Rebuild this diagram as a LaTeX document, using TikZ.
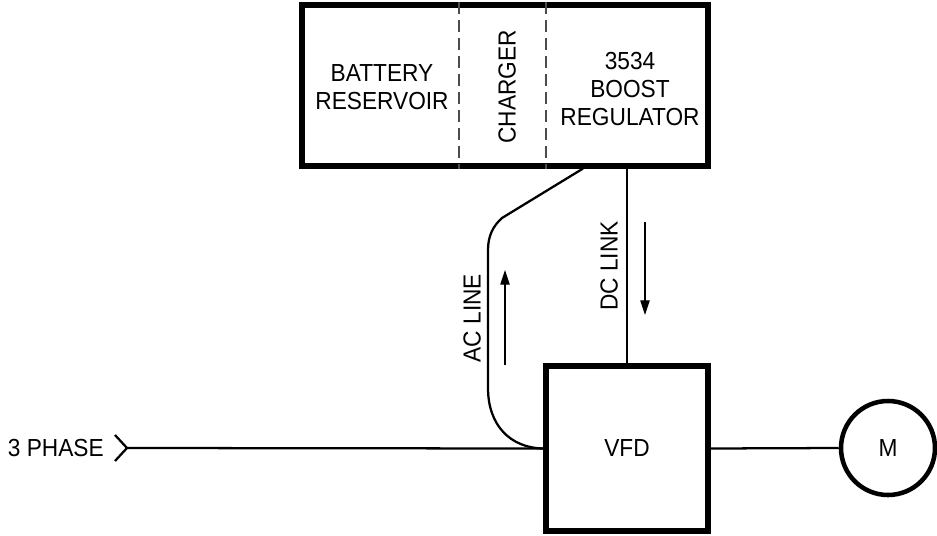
\documentclass[tikz,border=0pt]{standalone}
\usepackage{fontspec}
\setmainfont{Liberation Sans}[FakeStretch=0.92]
\usepackage{tikz}
\usetikzlibrary{arrows.meta,positioning,calc}

\begin{document}
\begin{tikzpicture}[x=0.75pt,y=-0.75pt,
    heavybox/.style={draw,line width=3.8pt,inner sep=0pt},
    wire/.style={line width=1.7pt},
    divider/.style={line width=0.8pt,dash pattern=on 9pt off 4.5pt,black!70},
    flow/.style={line width=0.8pt,-{Triangle[length=11pt,width=7pt]}},
    label/.style={font=\fontsize{18.5}{21}\selectfont,align=center,inner sep=0pt}]
    \useasboundingbox (0,0) rectangle (937,535);
    \node[heavybox,minimum width=304.5pt,minimum height=120.75pt] (ups) at (505,85.5) {};
    \node[heavybox,minimum width=121.5pt,minimum height=123.75pt] (vfd) at (627,448.5) {};
    \node[draw,circle,line width=3.4pt,minimum size=70.5pt,inner sep=0pt] (motor) at (888,448) {};
    \coordinate (split1) at (459,0);
    \coordinate (split2) at (546,0);
    \coordinate (acstart) at (583,0);
    \coordinate (inlet) at (127,448);
    \coordinate (upfrom) at (505,365);
    \coordinate (upto) at (505,270);
    \coordinate (downfrom) at (645,222);
    \coordinate (downto) at (645,315);
    \draw[divider] (ups.north -| split1) -- (ups.south -| split1);
    \draw[divider] (ups.north -| split2) -- (ups.south -| split2);
    \node[label] (battery) at (382,87) {BATTERY\\RESERVOIR};
    \node[label,rotate=90] (charger) at (507,87) {CHARGER};
    \node[label] (boost) at (630,89) {3534\\BOOST\\REGULATOR};
    \node[label] (vfdtext) at (vfd.center) {VFD};
    \node[label] (mtext) at (motor.center) {M};
    \node[label,anchor=east] (phase) at (104,448) {3 PHASE};
    \draw[wire] (ups.south -| vfd.north) -- (vfd.north);
    \draw[wire] (ups.south -| acstart) -- (502,218) .. controls (493,226) and (488,236) .. (488,250)
        -- (488,388) .. controls (488,425) and (510,448) .. (vfd.west);
    \draw[wire] ($(inlet)+(-12,-13)$) -- (inlet) -- ($(inlet)+(-12,13)$);
    \draw[wire] (inlet) -- (vfd.west);
    \draw[wire] (vfd.east) -- (motor.west);
    \node[label,rotate=90] (acline) at (472,318) {AC LINE};
    \node[label,rotate=90] (dclink) at (609,266) {DC LINK};
    \draw[flow] (upfrom) -- (upto);
    \draw[flow] (downfrom) -- (downto);
\end{tikzpicture}
\end{document}
